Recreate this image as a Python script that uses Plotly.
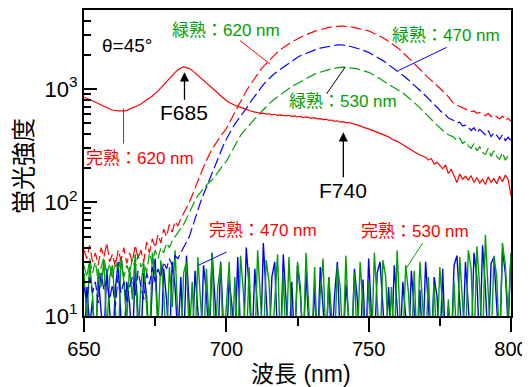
import math
import plotly.graph_objects as go

# ---------------- data ----------------
wavelength = list(range(650, 801))  # nm, 1 nm step

# 完熟 : 620 nm (red solid)
ripe_620 = [
    850, 830, 805, 785, 765, 745, 722, 700, 680, 665,
    652, 645, 640, 642, 638, 648, 662, 680, 700, 715,
    735, 762, 795, 830, 865, 905, 960, 1020, 1090, 1165,
    1245, 1320, 1400, 1470, 1530, 1560, 1545, 1510, 1455, 1385,
    1310, 1250, 1180, 1125, 1075, 1030, 975, 920, 870, 825,
    790, 760, 735, 718, 702, 690, 672, 660, 645, 632,
    625, 620, 610, 612, 600, 604, 592, 598, 584, 590,
    585, 578, 586, 570, 578, 566, 572, 560, 566, 554,
    550, 558, 545, 548, 536, 540, 528, 532, 518, 524,
    510, 514, 502, 506, 494, 490, 482, 470, 462, 452,
    445, 434, 428, 412, 404, 395, 386, 378, 362, 356,
    345, 334, 322, 310, 298, 290, 276, 270, 262, 256,
    250, 236, 244, 218, 226, 212, 198, 214, 180, 196,
    172, 150, 178, 160, 170, 158, 172, 150, 166, 148,
    160, 144, 168, 150, 162, 146, 170, 152, 174, 160,
    115,
]

# 緑熟 : 620 nm (red dashed)
green_620 = [
    38, 32, 42, 30, 36, 28, 40, 33, 44, 30,
    35, 27, 38, 31, 40, 29, 36, 30, 42, 32,
    38, 30, 45, 36, 48, 40, 52, 44, 58, 50,
    64, 55, 68, 62, 72, 80, 88, 100, 115, 135,
    155, 178, 205, 235, 265, 295, 325, 360, 385, 415,
    445, 500, 560, 620, 700, 790, 880, 960, 1050, 1150,
    1260, 1360, 1470, 1570, 1670, 1775, 1880, 1990, 2110, 2220,
    2320, 2410, 2500, 2590, 2680, 2760, 2840, 2920, 3000, 3080,
    3150, 3210, 3270, 3330, 3390, 3440, 3480, 3510, 3540, 3560,
    3570, 3570, 3560, 3540, 3510, 3470, 3430, 3380, 3330, 3290,
    3240, 3160, 3080, 2990, 2910, 2820, 2720, 2620, 2520, 2420,
    2320, 2210, 2100, 1990, 1880, 1775, 1670, 1570, 1480, 1390,
    1310, 1250, 1190, 1130, 1080, 1030, 960, 910, 850, 800,
    740, 720, 700, 690, 660, 650, 630, 640, 610, 620,
    600, 580, 610, 570, 590, 565, 545, 575, 530, 550,
    520,
]

# 緑熟 : 470 nm (blue dashed)
green_470 = [
    18, 14, 22, 16, 20, 13, 24, 17, 21, 14,
    19, 12, 23, 16, 20, 13, 18, 22, 15, 25,
    18, 14, 24, 19, 27, 20, 26, 22, 30, 26,
    32, 28, 34, 32, 36, 40, 44, 50, 60, 72,
    88, 102, 118, 136, 156, 180, 210, 245, 280, 320,
    360, 405, 445, 490, 530, 575, 615, 670, 730, 800,
    870, 940, 1010, 1090, 1160, 1240, 1300, 1370, 1430, 1490,
    1550, 1620, 1690, 1760, 1830, 1900, 1960, 2010, 2060, 2120,
    2170, 2210, 2250, 2290, 2320, 2350, 2380, 2400, 2430, 2440,
    2450, 2440, 2420, 2390, 2350, 2320, 2280, 2240, 2190, 2150,
    2100, 2030, 1970, 1900, 1840, 1775, 1710, 1640, 1580, 1510,
    1450, 1390, 1330, 1260, 1200, 1140, 1080, 1030, 970, 920,
    870, 820, 780, 730, 690, 645, 610, 590, 555, 540,
    525, 500, 510, 470, 480, 460, 430, 455, 410, 440,
    415, 395, 430, 380, 410, 390, 360, 395, 350, 375,
    350,
]

# 緑熟 : 530 nm (green dashed)
green_530 = [
    28, 22, 32, 24, 30, 20, 27, 33, 23, 29,
    21, 31, 25, 34, 22, 28, 24, 32, 26, 35,
    27, 30, 24, 36, 29, 38, 32, 40, 36, 44,
    40, 46, 50, 54, 58, 64, 72, 82, 92, 104,
    115, 124, 132, 142, 150, 158, 170, 185, 200, 215,
    230, 255, 285, 320, 355, 390, 420, 450, 485, 515,
    545, 580, 620, 660, 700, 740, 780, 815, 860, 895,
    930, 970, 1010, 1050, 1085, 1120, 1160, 1200, 1240, 1280,
    1320, 1350, 1380, 1410, 1430, 1450, 1480, 1500, 1520, 1540,
    1550, 1555, 1550, 1540, 1530, 1515, 1500, 1480, 1460, 1430,
    1400, 1360, 1320, 1270, 1230, 1180, 1140, 1100, 1060, 1030,
    1000, 960, 920, 880, 840, 800, 760, 720, 680, 640,
    600, 570, 540, 510, 480, 455, 430, 410, 395, 385,
    375, 350, 370, 330, 345, 315, 300, 330, 285, 310,
    275, 265, 300, 255, 285, 255, 240, 275, 235, 260,
    250,
]

# 完熟 : 470 nm (blue solid, noise level)
ripe_470 = [
    5, 18, 8, 14, 5, 22, 11, 6, 26, 12,
    5, 17, 30, 9, 5, 20, 13, 5, 28, 10,
    6, 24, 15, 5, 19, 32, 8, 5, 26, 14,
    5, 30, 18, 6, 22, 5, 34, 12, 5, 25,
    9, 5, 28, 16, 5, 36, 14, 5, 30, 8,
    5, 21, 12, 5, 33, 7, 5, 40, 18, 5,
    26, 9, 5, 44, 15, 5, 22, 30, 6, 5,
    35, 12, 5, 20, 5, 28, 16, 5, 24, 8,
    5, 18, 5, 27, 12, 5, 22, 5, 15, 30,
    6, 5, 19, 11, 5, 26, 14, 5, 21, 5,
    32, 10, 5, 24, 30, 12, 5, 18, 5, 28,
    14, 5, 20, 8, 5, 25, 12, 5, 17, 5,
    30, 9, 5, 22, 15, 5, 26, 5, 12, 5,
    28, 34, 16, 5, 30, 10, 5, 36, 22, 5,
    42, 18, 5, 29, 33, 12, 5, 38, 24, 8,
    35,
]

# 完熟 : 530 nm (green solid, noise level)
ripe_530 = [
    24, 9, 30, 15, 5, 26, 18, 31, 7, 22,
    28, 12, 5, 33, 20, 9, 27, 14, 35, 6,
    19, 29, 11, 5, 36, 22, 8, 31, 16, 5,
    27, 12, 38, 9, 5, 24, 30, 6, 20, 5,
    33, 11, 5, 26, 8, 36, 5, 18, 29, 5,
    12, 30, 5, 22, 5, 34, 16, 5, 27, 6,
    5, 38, 14, 5, 31, 20, 5, 12, 35, 5,
    24, 5, 33, 9, 5, 30, 18, 5, 36, 11,
    5, 27, 5, 16, 32, 5, 22, 10, 5, 28,
    18, 5, 34, 8, 5, 24, 5, 30, 12, 5,
    20, 5, 36, 14, 5, 31, 22, 5, 18, 5,
    38, 10, 5, 28, 16, 5, 25, 5, 30, 12,
    5, 22, 5, 19, 5, 27, 9, 5, 14, 5,
    20, 5, 33, 12, 5, 38, 26, 5, 41, 18,
    5, 52, 15, 5, 34, 22, 5, 44, 28, 10,
    36,
]

x_ticks = [650, 700, 750, 800]
x_minor = [675, 725, 775]
y_ticks = [10, 100, 1000]
y_ticklabels = ["10<sup>1</sup>", "10<sup>2</sup>", "10<sup>3</sup>"]
y_minor = [20, 30, 40, 50, 60, 70, 80, 90,
           200, 300, 400, 500, 600, 700, 800, 900,
           2000, 3000, 4000]

# ---------------- styling ----------------
RED = "#ff0000"
BLUE = "#0000ff"
GREEN = "#00a000"
FONT = "Liberation Sans, Arial, Noto Sans CJK JP, sans-serif"
DASH = "11px,4px"

fig = go.Figure()

fig.add_trace(go.Scatter(x=wavelength, y=ripe_470, mode="lines",
                         line=dict(color=BLUE, width=1.4)))
fig.add_trace(go.Scatter(x=wavelength, y=ripe_530, mode="lines",
                         line=dict(color=GREEN, width=1.4)))
fig.add_trace(go.Scatter(x=wavelength, y=green_470, mode="lines",
                         line=dict(color=BLUE, width=1.2, dash=DASH)))
fig.add_trace(go.Scatter(x=wavelength, y=green_530, mode="lines",
                         line=dict(color=GREEN, width=1.2, dash=DASH)))
fig.add_trace(go.Scatter(x=wavelength, y=green_620, mode="lines",
                         line=dict(color=RED, width=1.2, dash=DASH)))
fig.add_trace(go.Scatter(x=wavelength, y=ripe_620, mode="lines",
                         line=dict(color=RED, width=1.2)))

L = math.log10

# text labels: (text, wavelength, intensity, colour, size)
labels = [
    ("θ=45°", 665.1, 2404, "black", 19),
    ("完熟：620 nm", 669.8, 246, RED, 17),
    ("緑熟：620 nm", 700.0, 3260, GREEN, 17),
    ("緑熟：470 nm", 777.3, 2972, GREEN, 17),
    ("緑熟：530 nm", 741.1, 782, GREEN, 17),
    ("完熟：470 nm", 713.0, 56.8, RED, 17),
    ("完熟：530 nm", 766.4, 55.1, RED, 17),
]
for t, lx, ly, c, s in labels:
    fig.add_annotation(x=lx, y=L(ly), xref="x", yref="y", text=t,
                       showarrow=False, xanchor="center", yanchor="middle",
                       font=dict(family=FONT, size=s, color=c))

# leader lines: (x0, y0, x1, y1, colour) in data units
leaders = [
    (663.9, 672, 663.9, 330, RED),
    (704.8, 2661, 715.3, 1660, RED),
    (777.4, 2323, 760.4, 1449, BLUE),
    (735.2, 904, 741.7, 1549, "black"),
    (700.1, 36.6, 690.1, 27.9, BLUE),
    (769.0, 43.9, 763.1, 26.1, GREEN),
]
for x0, y0, x1, y1, c in leaders:
    fig.add_shape(type="line", xref="x", yref="y",
                  x0=x0, y0=y0, x1=x1, y1=y1,
                  line=dict(color=c, width=1))

# peak labels with arrows: (text, tip x, tip y, label x, label y)
peaks = [
    ("F685", 685.3, 1400, 685.3, 617),
    ("F740", 741.1, 415, 741.1, 128),
]
for t, tx, ty, sx, sy in peaks:
    fig.add_annotation(x=tx, y=L(ty), ax=sx, ay=L(sy),
                       xref="x", yref="y", axref="x", ayref="y",
                       text=t, showarrow=True, arrowhead=2,
                       arrowsize=1.4, arrowwidth=1.3, arrowcolor="black",
                       font=dict(family=FONT, size=21, color="black"))

# axis titles
fig.add_annotation(x=(301 - 84) / 427, y=0, xref="paper", yref="paper",
                   yshift=-58, text="波長 (nm)", showarrow=False,
                   xanchor="center", yanchor="middle",
                   font=dict(family=FONT, size=23, color="black"))
fig.add_annotation(x=0, y=(316 - 166) / 306, xref="paper", yref="paper",
                   xshift=-61, text="蛍光強度", showarrow=False, textangle=-90,
                   xanchor="center", yanchor="middle",
                   font=dict(family=FONT, size=24, color="black"))

# the page body adds an 8px offset, so the figure is sized to compensate
fig.update_layout(
    width=522, height=379,
    margin=dict(l=76, r=19, t=2, b=71),
    paper_bgcolor="white", plot_bgcolor="white",
    showlegend=False,
    font=dict(family=FONT, color="black"),
)
fig.update_xaxes(
    range=[650, 800], showgrid=False, zeroline=False, automargin=False,
    showline=True, linecolor="black", linewidth=2, mirror=True,
    tickmode="array", tickvals=x_ticks,
    ticks="outside", ticklen=14, tickwidth=2, tickcolor="black",
    tickfont=dict(family=FONT, size=20),
    minor=dict(tickmode="array", tickvals=x_minor, ticks="outside",
               ticklen=8, tickwidth=2, tickcolor="black"),
)
fig.update_yaxes(
    type="log", range=[1, 3.695], showgrid=False, zeroline=False,
    automargin=False,
    showline=True, linecolor="black", linewidth=2, mirror=True,
    tickmode="array", tickvals=y_ticks, ticktext=y_ticklabels,
    ticks="inside", ticklen=13, tickwidth=2, tickcolor="black",
    tickfont=dict(family=FONT, size=22),
    minor=dict(tickmode="array", tickvals=y_minor, ticks="inside",
               ticklen=7, tickwidth=1.5, tickcolor="black"),
)

fig.write_html("out.html")
